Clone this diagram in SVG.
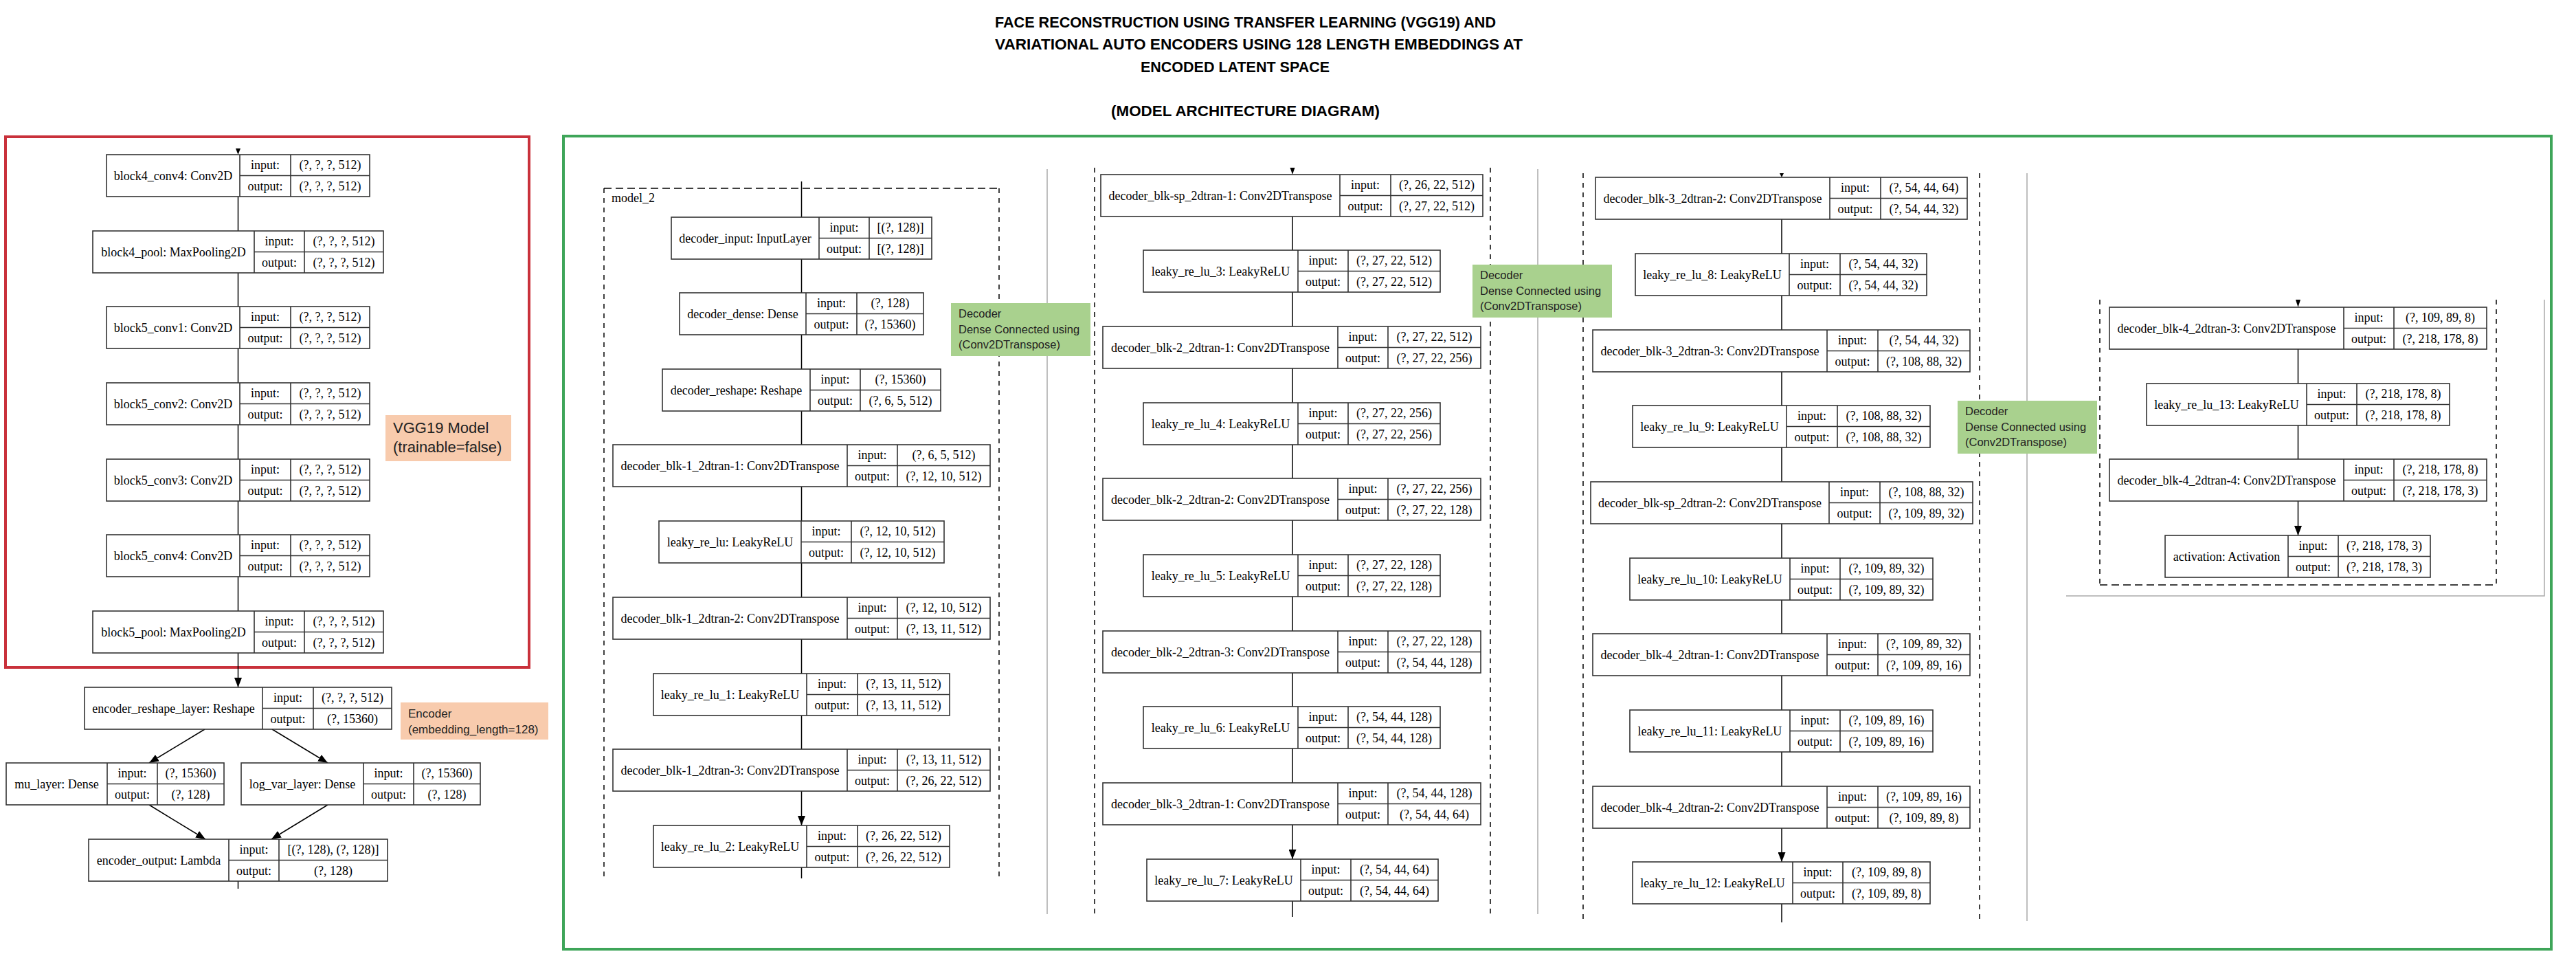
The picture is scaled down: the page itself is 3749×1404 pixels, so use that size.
<svg xmlns="http://www.w3.org/2000/svg" width="3749" height="1404" viewBox="0 0 3749 1404">
<style>
.box{fill:#fff;stroke:#333;stroke-width:1.6}
.sep{fill:none;stroke:#333;stroke-width:1.6}
.t{font-family:"Liberation Serif","Times New Roman",serif;font-size:18px;fill:#000;text-anchor:middle}
.ts{font-family:"Liberation Serif","Times New Roman",serif;font-size:18px;fill:#000}
.edge{stroke:#000;stroke-width:1.5;fill:none;marker-end:url(#ah)}
.stub{stroke:#000;stroke-width:1.5;fill:none}
.dv{stroke:#000;stroke-width:1.5;fill:none;stroke-dasharray:7 7}
.dh{stroke:#000;stroke-width:1.5;fill:none;stroke-dasharray:11 6}
.grey{stroke:#aaa;stroke-width:1.5;fill:none}
.title{font-family:"Liberation Sans",Arial,sans-serif;font-weight:bold;font-size:22px;fill:#000}
.note{font-family:"Liberation Sans",Arial,sans-serif;fill:#222}
</style>
<defs>
<marker id="ah" markerUnits="userSpaceOnUse" markerWidth="14" markerHeight="11" refX="14" refY="5.5" orient="auto"><path d="M0,0 L14,5.5 L0,11 z" fill="#000"/></marker>
</defs>
<rect width="3749" height="1404" fill="#fff"/>
<g id="title">
<text class="title" x="1448" y="40" textLength="729" lengthAdjust="spacingAndGlyphs">FACE RECONSTRUCTION USING TRANSFER LEARNING (VGG19) AND</text>
<text class="title" x="1448" y="72" textLength="768" lengthAdjust="spacingAndGlyphs">VARIATIONAL AUTO ENCODERS USING 128 LENGTH EMBEDDINGS AT</text>
<text class="title" x="1660" y="105" textLength="275" lengthAdjust="spacingAndGlyphs">ENCODED LATENT SPACE</text>
<text class="title" x="1617" y="169" textLength="391" lengthAdjust="spacingAndGlyphs">(MODEL ARCHITECTURE DIAGRAM)</text>
</g>
<g id="frames">
<path class="grey" d="M1524,246V1330M2238,246V1330M2950,252V1340M3007,867H3703V436"/>
<path class="dv" d="M879,274V1276M1454,274V1276M1593,244V1329M2169,244V1329M2304,252V1341M2881,252V1341M3056,436V851M3633,436V851"/>
<path class="dh" d="M879,274H1454M3056,851H3633"/>
<text class="ts" x="890" y="294">model_2</text>
<rect x="8" y="199" width="762" height="772" fill="none" stroke="#c9313b" stroke-width="4"/>
<rect x="820" y="198" width="2893" height="1183" fill="none" stroke="#3ea559" stroke-width="4"/>
</g>
<g id="connectors">
<path class="edge" d="M346.5,286V336M346.5,397V446M346.5,507V557M346.5,618V668M346.5,729V778M346.5,839V889M346.5,950V1000"/>
<path class="edge" d="M298,1061L217,1110"/>
<path class="edge" d="M396,1061L477,1110"/>
<path class="edge" d="M217,1171L299,1221"/>
<path class="edge" d="M477,1171L395,1221"/>
<path d="M343,216H350L346.5,225z" fill="#000"/>
<path class="stub" d="M346.5,1282V1293M1166.5,1262V1278M1881,1311V1334M2593,1315V1342"/>
<path class="edge" d="M1166.5,264V316M1166.5,377V426M1166.5,487V537M1166.5,598V647M1166.5,708V758M1166.5,819V869M1166.5,930V980M1166.5,1041V1090M1166.5,1151V1201"/>
<path d="M1877.5,244H1884.5L1881,254z" fill="#000"/>
<path class="edge" d="M1881,315V364M1881,425V475M1881,536V586M1881,647V696M1881,757V807M1881,868V918M1881,979V1028M1881,1089V1139M1881,1200V1250"/>
<path d="M2590,252H2596L2593,258z" fill="#000"/>
<path class="edge" d="M2593,319V369M2593,430V480M2593,541V590M2593,651V701M2593,762V812M2593,873V922M2593,983V1033M2593,1094V1144M2593,1205V1254"/>
<path d="M3341,436H3348L3344.5,447z" fill="#000"/>
<path class="edge" d="M3344.5,508V558M3344.5,619V668M3344.5,729V779"/>
</g>
<g id="block4_conv4"><rect class="box" x="155" y="225" width="383" height="61"/><path class="sep" d="M349,225V286M423,225V286M349,255.5H538"/><text class="t" x="252" y="262">block4_conv4: Conv2D</text><text class="t" x="386" y="246">input:</text><text class="t" x="386" y="277">output:</text><text class="t" x="480.5" y="246">(?, ?, ?, 512)</text><text class="t" x="480.5" y="277">(?, ?, ?, 512)</text></g>
<g id="block4_pool"><rect class="box" x="135" y="336" width="423" height="61"/><path class="sep" d="M370,336V397M443,336V397M370,366.5H558"/><text class="t" x="252.5" y="373">block4_pool: MaxPooling2D</text><text class="t" x="406.5" y="357">input:</text><text class="t" x="406.5" y="388">output:</text><text class="t" x="500.5" y="357">(?, ?, ?, 512)</text><text class="t" x="500.5" y="388">(?, ?, ?, 512)</text></g>
<g id="block5_conv1"><rect class="box" x="155" y="446" width="383" height="61"/><path class="sep" d="M349,446V507M423,446V507M349,476.5H538"/><text class="t" x="252" y="483">block5_conv1: Conv2D</text><text class="t" x="386" y="467">input:</text><text class="t" x="386" y="498">output:</text><text class="t" x="480.5" y="467">(?, ?, ?, 512)</text><text class="t" x="480.5" y="498">(?, ?, ?, 512)</text></g>
<g id="block5_conv2"><rect class="box" x="155" y="557" width="383" height="61"/><path class="sep" d="M349,557V618M423,557V618M349,587.5H538"/><text class="t" x="252" y="594">block5_conv2: Conv2D</text><text class="t" x="386" y="578">input:</text><text class="t" x="386" y="609">output:</text><text class="t" x="480.5" y="578">(?, ?, ?, 512)</text><text class="t" x="480.5" y="609">(?, ?, ?, 512)</text></g>
<g id="block5_conv3"><rect class="box" x="155" y="668" width="383" height="61"/><path class="sep" d="M349,668V729M423,668V729M349,698.5H538"/><text class="t" x="252" y="705">block5_conv3: Conv2D</text><text class="t" x="386" y="689">input:</text><text class="t" x="386" y="720">output:</text><text class="t" x="480.5" y="689">(?, ?, ?, 512)</text><text class="t" x="480.5" y="720">(?, ?, ?, 512)</text></g>
<g id="block5_conv4"><rect class="box" x="155" y="778" width="383" height="61"/><path class="sep" d="M349,778V839M423,778V839M349,808.5H538"/><text class="t" x="252" y="815">block5_conv4: Conv2D</text><text class="t" x="386" y="799">input:</text><text class="t" x="386" y="830">output:</text><text class="t" x="480.5" y="799">(?, ?, ?, 512)</text><text class="t" x="480.5" y="830">(?, ?, ?, 512)</text></g>
<g id="block5_pool"><rect class="box" x="135" y="889" width="423" height="61"/><path class="sep" d="M370,889V950M443,889V950M370,919.5H558"/><text class="t" x="252.5" y="926">block5_pool: MaxPooling2D</text><text class="t" x="406.5" y="910">input:</text><text class="t" x="406.5" y="941">output:</text><text class="t" x="500.5" y="910">(?, ?, ?, 512)</text><text class="t" x="500.5" y="941">(?, ?, ?, 512)</text></g>
<g id="encoder_reshape_layer"><rect class="box" x="123" y="1000" width="447" height="61"/><path class="sep" d="M382,1000V1061M456,1000V1061M382,1030.5H570"/><text class="t" x="252.5" y="1037">encoder_reshape_layer: Reshape</text><text class="t" x="419" y="1021">input:</text><text class="t" x="419" y="1052">output:</text><text class="t" x="513" y="1021">(?, ?, ?, 512)</text><text class="t" x="513" y="1052">(?, 15360)</text></g>
<g id="mu_layer"><rect class="box" x="9" y="1110" width="317" height="61"/><path class="sep" d="M156,1110V1171M229,1110V1171M156,1140.5H326"/><text class="t" x="82.5" y="1147">mu_layer: Dense</text><text class="t" x="192.5" y="1131">input:</text><text class="t" x="192.5" y="1162">output:</text><text class="t" x="277.5" y="1131">(?, 15360)</text><text class="t" x="277.5" y="1162">(?, 128)</text></g>
<g id="log_var_layer"><rect class="box" x="351" y="1110" width="348" height="61"/><path class="sep" d="M529,1110V1171M602,1110V1171M529,1140.5H699"/><text class="t" x="440" y="1147">log_var_layer: Dense</text><text class="t" x="565.5" y="1131">input:</text><text class="t" x="565.5" y="1162">output:</text><text class="t" x="650.5" y="1131">(?, 15360)</text><text class="t" x="650.5" y="1162">(?, 128)</text></g>
<g id="encoder_output"><rect class="box" x="129" y="1221" width="435" height="61"/><path class="sep" d="M333,1221V1282M406,1221V1282M333,1251.5H564"/><text class="t" x="231" y="1258">encoder_output: Lambda</text><text class="t" x="369.5" y="1242">input:</text><text class="t" x="369.5" y="1273">output:</text><text class="t" x="485" y="1242">[(?, 128), (?, 128)]</text><text class="t" x="485" y="1273">(?, 128)</text></g>
<g id="decoder_input"><rect class="box" x="977" y="316" width="379" height="61"/><path class="sep" d="M1192,316V377M1265,316V377M1192,346.5H1356"/><text class="t" x="1084.5" y="353">decoder_input: InputLayer</text><text class="t" x="1228.5" y="337">input:</text><text class="t" x="1228.5" y="368">output:</text><text class="t" x="1310.5" y="337">[(?, 128)]</text><text class="t" x="1310.5" y="368">[(?, 128)]</text></g>
<g id="decoder_dense"><rect class="box" x="989" y="426" width="355" height="61"/><path class="sep" d="M1173,426V487M1247,426V487M1173,456.5H1344"/><text class="t" x="1081" y="463">decoder_dense: Dense</text><text class="t" x="1210" y="447">input:</text><text class="t" x="1210" y="478">output:</text><text class="t" x="1295.5" y="447">(?, 128)</text><text class="t" x="1295.5" y="478">(?, 15360)</text></g>
<g id="decoder_reshape"><rect class="box" x="964" y="537" width="405" height="61"/><path class="sep" d="M1179,537V598M1252,537V598M1179,567.5H1369"/><text class="t" x="1071.5" y="574">decoder_reshape: Reshape</text><text class="t" x="1215.5" y="558">input:</text><text class="t" x="1215.5" y="589">output:</text><text class="t" x="1310.5" y="558">(?, 15360)</text><text class="t" x="1310.5" y="589">(?, 6, 5, 512)</text></g>
<g id="decoder_blk-1_2dtran-1"><rect class="box" x="892" y="647" width="549" height="61"/><path class="sep" d="M1233,647V708M1306,647V708M1233,677.5H1441"/><text class="t" x="1062.5" y="684">decoder_blk-1_2dtran-1: Conv2DTranspose</text><text class="t" x="1269.5" y="668">input:</text><text class="t" x="1269.5" y="699">output:</text><text class="t" x="1373.5" y="668">(?, 6, 5, 512)</text><text class="t" x="1373.5" y="699">(?, 12, 10, 512)</text></g>
<g id="leaky_re_lu"><rect class="box" x="959" y="758" width="415" height="61"/><path class="sep" d="M1166,758V819M1239,758V819M1166,788.5H1374"/><text class="t" x="1062.5" y="795">leaky_re_lu: LeakyReLU</text><text class="t" x="1202.5" y="779">input:</text><text class="t" x="1202.5" y="810">output:</text><text class="t" x="1306.5" y="779">(?, 12, 10, 512)</text><text class="t" x="1306.5" y="810">(?, 12, 10, 512)</text></g>
<g id="decoder_blk-1_2dtran-2"><rect class="box" x="892" y="869" width="549" height="61"/><path class="sep" d="M1233,869V930M1306,869V930M1233,899.5H1441"/><text class="t" x="1062.5" y="906">decoder_blk-1_2dtran-2: Conv2DTranspose</text><text class="t" x="1269.5" y="890">input:</text><text class="t" x="1269.5" y="921">output:</text><text class="t" x="1373.5" y="890">(?, 12, 10, 512)</text><text class="t" x="1373.5" y="921">(?, 13, 11, 512)</text></g>
<g id="leaky_re_lu_1"><rect class="box" x="951" y="980" width="431" height="61"/><path class="sep" d="M1174,980V1041M1248,980V1041M1174,1010.5H1382"/><text class="t" x="1062.5" y="1017">leaky_re_lu_1: LeakyReLU</text><text class="t" x="1211" y="1001">input:</text><text class="t" x="1211" y="1032">output:</text><text class="t" x="1315" y="1001">(?, 13, 11, 512)</text><text class="t" x="1315" y="1032">(?, 13, 11, 512)</text></g>
<g id="decoder_blk-1_2dtran-3"><rect class="box" x="892" y="1090" width="549" height="61"/><path class="sep" d="M1233,1090V1151M1306,1090V1151M1233,1120.5H1441"/><text class="t" x="1062.5" y="1127">decoder_blk-1_2dtran-3: Conv2DTranspose</text><text class="t" x="1269.5" y="1111">input:</text><text class="t" x="1269.5" y="1142">output:</text><text class="t" x="1373.5" y="1111">(?, 13, 11, 512)</text><text class="t" x="1373.5" y="1142">(?, 26, 22, 512)</text></g>
<g id="leaky_re_lu_2"><rect class="box" x="951" y="1201" width="431" height="61"/><path class="sep" d="M1174,1201V1262M1248,1201V1262M1174,1231.5H1382"/><text class="t" x="1062.5" y="1238">leaky_re_lu_2: LeakyReLU</text><text class="t" x="1211" y="1222">input:</text><text class="t" x="1211" y="1253">output:</text><text class="t" x="1315" y="1222">(?, 26, 22, 512)</text><text class="t" x="1315" y="1253">(?, 26, 22, 512)</text></g>
<g id="decoder_blk-sp_2dtran-1"><rect class="box" x="1602" y="254" width="556" height="61"/><path class="sep" d="M1950,254V315M2024,254V315M1950,284.5H2158"/><text class="t" x="1776" y="291">decoder_blk-sp_2dtran-1: Conv2DTranspose</text><text class="t" x="1987" y="275">input:</text><text class="t" x="1987" y="306">output:</text><text class="t" x="2091" y="275">(?, 26, 22, 512)</text><text class="t" x="2091" y="306">(?, 27, 22, 512)</text></g>
<g id="leaky_re_lu_3"><rect class="box" x="1664" y="364" width="432" height="61"/><path class="sep" d="M1889,364V425M1962,364V425M1889,394.5H2096"/><text class="t" x="1776.5" y="401">leaky_re_lu_3: LeakyReLU</text><text class="t" x="1925.5" y="385">input:</text><text class="t" x="1925.5" y="416">output:</text><text class="t" x="2029" y="385">(?, 27, 22, 512)</text><text class="t" x="2029" y="416">(?, 27, 22, 512)</text></g>
<g id="decoder_blk-2_2dtran-1"><rect class="box" x="1605" y="475" width="550" height="61"/><path class="sep" d="M1947,475V536M2020,475V536M1947,505.5H2155"/><text class="t" x="1776" y="512">decoder_blk-2_2dtran-1: Conv2DTranspose</text><text class="t" x="1983.5" y="496">input:</text><text class="t" x="1983.5" y="527">output:</text><text class="t" x="2087.5" y="496">(?, 27, 22, 512)</text><text class="t" x="2087.5" y="527">(?, 27, 22, 256)</text></g>
<g id="leaky_re_lu_4"><rect class="box" x="1664" y="586" width="432" height="61"/><path class="sep" d="M1889,586V647M1962,586V647M1889,616.5H2096"/><text class="t" x="1776.5" y="623">leaky_re_lu_4: LeakyReLU</text><text class="t" x="1925.5" y="607">input:</text><text class="t" x="1925.5" y="638">output:</text><text class="t" x="2029" y="607">(?, 27, 22, 256)</text><text class="t" x="2029" y="638">(?, 27, 22, 256)</text></g>
<g id="decoder_blk-2_2dtran-2"><rect class="box" x="1605" y="696" width="550" height="61"/><path class="sep" d="M1947,696V757M2020,696V757M1947,726.5H2155"/><text class="t" x="1776" y="733">decoder_blk-2_2dtran-2: Conv2DTranspose</text><text class="t" x="1983.5" y="717">input:</text><text class="t" x="1983.5" y="748">output:</text><text class="t" x="2087.5" y="717">(?, 27, 22, 256)</text><text class="t" x="2087.5" y="748">(?, 27, 22, 128)</text></g>
<g id="leaky_re_lu_5"><rect class="box" x="1664" y="807" width="432" height="61"/><path class="sep" d="M1889,807V868M1962,807V868M1889,837.5H2096"/><text class="t" x="1776.5" y="844">leaky_re_lu_5: LeakyReLU</text><text class="t" x="1925.5" y="828">input:</text><text class="t" x="1925.5" y="859">output:</text><text class="t" x="2029" y="828">(?, 27, 22, 128)</text><text class="t" x="2029" y="859">(?, 27, 22, 128)</text></g>
<g id="decoder_blk-2_2dtran-3"><rect class="box" x="1605" y="918" width="550" height="61"/><path class="sep" d="M1947,918V979M2020,918V979M1947,948.5H2155"/><text class="t" x="1776" y="955">decoder_blk-2_2dtran-3: Conv2DTranspose</text><text class="t" x="1983.5" y="939">input:</text><text class="t" x="1983.5" y="970">output:</text><text class="t" x="2087.5" y="939">(?, 27, 22, 128)</text><text class="t" x="2087.5" y="970">(?, 54, 44, 128)</text></g>
<g id="leaky_re_lu_6"><rect class="box" x="1664" y="1028" width="432" height="61"/><path class="sep" d="M1889,1028V1089M1962,1028V1089M1889,1058.5H2096"/><text class="t" x="1776.5" y="1065">leaky_re_lu_6: LeakyReLU</text><text class="t" x="1925.5" y="1049">input:</text><text class="t" x="1925.5" y="1080">output:</text><text class="t" x="2029" y="1049">(?, 54, 44, 128)</text><text class="t" x="2029" y="1080">(?, 54, 44, 128)</text></g>
<g id="decoder_blk-3_2dtran-1"><rect class="box" x="1605" y="1139" width="550" height="61"/><path class="sep" d="M1947,1139V1200M2020,1139V1200M1947,1169.5H2155"/><text class="t" x="1776" y="1176">decoder_blk-3_2dtran-1: Conv2DTranspose</text><text class="t" x="1983.5" y="1160">input:</text><text class="t" x="1983.5" y="1191">output:</text><text class="t" x="2087.5" y="1160">(?, 54, 44, 128)</text><text class="t" x="2087.5" y="1191">(?, 54, 44, 64)</text></g>
<g id="leaky_re_lu_7"><rect class="box" x="1669" y="1250" width="424" height="61"/><path class="sep" d="M1893,1250V1311M1966,1250V1311M1893,1280.5H2093"/><text class="t" x="1781" y="1287">leaky_re_lu_7: LeakyReLU</text><text class="t" x="1929.5" y="1271">input:</text><text class="t" x="1929.5" y="1302">output:</text><text class="t" x="2029.5" y="1271">(?, 54, 44, 64)</text><text class="t" x="2029.5" y="1302">(?, 54, 44, 64)</text></g>
<g id="decoder_blk-3_2dtran-2"><rect class="box" x="2322" y="258" width="541" height="61"/><path class="sep" d="M2663,258V319M2737,258V319M2663,288.5H2863"/><text class="t" x="2492.5" y="295">decoder_blk-3_2dtran-2: Conv2DTranspose</text><text class="t" x="2700" y="279">input:</text><text class="t" x="2700" y="310">output:</text><text class="t" x="2800" y="279">(?, 54, 44, 64)</text><text class="t" x="2800" y="310">(?, 54, 44, 32)</text></g>
<g id="leaky_re_lu_8"><rect class="box" x="2380" y="369" width="424" height="61"/><path class="sep" d="M2604,369V430M2678,369V430M2604,399.5H2804"/><text class="t" x="2492" y="406">leaky_re_lu_8: LeakyReLU</text><text class="t" x="2641" y="390">input:</text><text class="t" x="2641" y="421">output:</text><text class="t" x="2741" y="390">(?, 54, 44, 32)</text><text class="t" x="2741" y="421">(?, 54, 44, 32)</text></g>
<g id="decoder_blk-3_2dtran-3"><rect class="box" x="2318" y="480" width="549" height="61"/><path class="sep" d="M2659,480V541M2733,480V541M2659,510.5H2867"/><text class="t" x="2488.5" y="517">decoder_blk-3_2dtran-3: Conv2DTranspose</text><text class="t" x="2696" y="501">input:</text><text class="t" x="2696" y="532">output:</text><text class="t" x="2800" y="501">(?, 54, 44, 32)</text><text class="t" x="2800" y="532">(?, 108, 88, 32)</text></g>
<g id="leaky_re_lu_9"><rect class="box" x="2376" y="590" width="433" height="61"/><path class="sep" d="M2600,590V651M2674,590V651M2600,620.5H2809"/><text class="t" x="2488" y="627">leaky_re_lu_9: LeakyReLU</text><text class="t" x="2637" y="611">input:</text><text class="t" x="2637" y="642">output:</text><text class="t" x="2741.5" y="611">(?, 108, 88, 32)</text><text class="t" x="2741.5" y="642">(?, 108, 88, 32)</text></g>
<g id="decoder_blk-sp_2dtran-2"><rect class="box" x="2315" y="701" width="556" height="61"/><path class="sep" d="M2662,701V762M2736,701V762M2662,731.5H2871"/><text class="t" x="2488.5" y="738">decoder_blk-sp_2dtran-2: Conv2DTranspose</text><text class="t" x="2699" y="722">input:</text><text class="t" x="2699" y="753">output:</text><text class="t" x="2803.5" y="722">(?, 108, 88, 32)</text><text class="t" x="2803.5" y="753">(?, 109, 89, 32)</text></g>
<g id="leaky_re_lu_10"><rect class="box" x="2372" y="812" width="441" height="61"/><path class="sep" d="M2605,812V873M2678,812V873M2605,842.5H2813"/><text class="t" x="2488.5" y="849">leaky_re_lu_10: LeakyReLU</text><text class="t" x="2641.5" y="833">input:</text><text class="t" x="2641.5" y="864">output:</text><text class="t" x="2745.5" y="833">(?, 109, 89, 32)</text><text class="t" x="2745.5" y="864">(?, 109, 89, 32)</text></g>
<g id="decoder_blk-4_2dtran-1"><rect class="box" x="2318" y="922" width="549" height="61"/><path class="sep" d="M2659,922V983M2733,922V983M2659,952.5H2867"/><text class="t" x="2488.5" y="959">decoder_blk-4_2dtran-1: Conv2DTranspose</text><text class="t" x="2696" y="943">input:</text><text class="t" x="2696" y="974">output:</text><text class="t" x="2800" y="943">(?, 109, 89, 32)</text><text class="t" x="2800" y="974">(?, 109, 89, 16)</text></g>
<g id="leaky_re_lu_11"><rect class="box" x="2372" y="1033" width="441" height="61"/><path class="sep" d="M2605,1033V1094M2678,1033V1094M2605,1063.5H2813"/><text class="t" x="2488.5" y="1070">leaky_re_lu_11: LeakyReLU</text><text class="t" x="2641.5" y="1054">input:</text><text class="t" x="2641.5" y="1085">output:</text><text class="t" x="2745.5" y="1054">(?, 109, 89, 16)</text><text class="t" x="2745.5" y="1085">(?, 109, 89, 16)</text></g>
<g id="decoder_blk-4_2dtran-2"><rect class="box" x="2318" y="1144" width="549" height="61"/><path class="sep" d="M2659,1144V1205M2733,1144V1205M2659,1174.5H2867"/><text class="t" x="2488.5" y="1181">decoder_blk-4_2dtran-2: Conv2DTranspose</text><text class="t" x="2696" y="1165">input:</text><text class="t" x="2696" y="1196">output:</text><text class="t" x="2800" y="1165">(?, 109, 89, 16)</text><text class="t" x="2800" y="1196">(?, 109, 89, 8)</text></g>
<g id="leaky_re_lu_12"><rect class="box" x="2376" y="1254" width="433" height="61"/><path class="sep" d="M2609,1254V1315M2682,1254V1315M2609,1284.5H2809"/><text class="t" x="2492.5" y="1291">leaky_re_lu_12: LeakyReLU</text><text class="t" x="2645.5" y="1275">input:</text><text class="t" x="2645.5" y="1306">output:</text><text class="t" x="2745.5" y="1275">(?, 109, 89, 8)</text><text class="t" x="2745.5" y="1306">(?, 109, 89, 8)</text></g>
<g id="decoder_blk-4_2dtran-3"><rect class="box" x="3070" y="447" width="549" height="61"/><path class="sep" d="M3411,447V508M3484,447V508M3411,477.5H3619"/><text class="t" x="3240.5" y="484">decoder_blk-4_2dtran-3: Conv2DTranspose</text><text class="t" x="3447.5" y="468">input:</text><text class="t" x="3447.5" y="499">output:</text><text class="t" x="3551.5" y="468">(?, 109, 89, 8)</text><text class="t" x="3551.5" y="499">(?, 218, 178, 8)</text></g>
<g id="leaky_re_lu_13"><rect class="box" x="3124" y="558" width="441" height="61"/><path class="sep" d="M3357,558V619M3430,558V619M3357,588.5H3565"/><text class="t" x="3240.5" y="595">leaky_re_lu_13: LeakyReLU</text><text class="t" x="3393.5" y="579">input:</text><text class="t" x="3393.5" y="610">output:</text><text class="t" x="3497.5" y="579">(?, 218, 178, 8)</text><text class="t" x="3497.5" y="610">(?, 218, 178, 8)</text></g>
<g id="decoder_blk-4_2dtran-4"><rect class="box" x="3070" y="668" width="549" height="61"/><path class="sep" d="M3411,668V729M3484,668V729M3411,698.5H3619"/><text class="t" x="3240.5" y="705">decoder_blk-4_2dtran-4: Conv2DTranspose</text><text class="t" x="3447.5" y="689">input:</text><text class="t" x="3447.5" y="720">output:</text><text class="t" x="3551.5" y="689">(?, 218, 178, 8)</text><text class="t" x="3551.5" y="720">(?, 218, 178, 3)</text></g>
<g id="activation"><rect class="box" x="3151" y="779" width="386" height="61"/><path class="sep" d="M3330,779V840M3403,779V840M3330,809.5H3537"/><text class="t" x="3240.5" y="816">activation: Activation</text><text class="t" x="3366.5" y="800">input:</text><text class="t" x="3366.5" y="831">output:</text><text class="t" x="3470" y="800">(?, 218, 178, 3)</text><text class="t" x="3470" y="831">(?, 218, 178, 3)</text></g>
<g id="note-vgg19"><rect x="561" y="604" width="183" height="67" fill="#f8cbad"/><text class="note" font-size="22" x="572" y="630">VGG19 Model</text><text class="note" font-size="22" x="572" y="658">(trainable=false)</text></g>
<g id="note-encoder"><rect x="583" y="1022" width="215" height="54" fill="#f8cbad"/><text class="note" font-size="17" x="594" y="1044">Encoder</text><text class="note" font-size="17" x="594" y="1067">(embedding_length=128)</text></g>
<g id="note-decoder-1"><rect x="1384" y="441" width="203" height="77" fill="#a9d18e"/><text class="note" font-size="16.5" x="1395" y="462">Decoder</text><text class="note" font-size="16.5" x="1395" y="485">Dense Connected using</text><text class="note" font-size="16.5" x="1395" y="507">(Conv2DTranspose)</text></g>
<g id="note-decoder-2"><rect x="2143" y="385" width="203" height="77" fill="#a9d18e"/><text class="note" font-size="16.5" x="2154" y="406">Decoder</text><text class="note" font-size="16.5" x="2154" y="429">Dense Connected using</text><text class="note" font-size="16.5" x="2154" y="451">(Conv2DTranspose)</text></g>
<g id="note-decoder-3"><rect x="2849" y="583" width="203" height="77" fill="#a9d18e"/><text class="note" font-size="16.5" x="2860" y="604">Decoder</text><text class="note" font-size="16.5" x="2860" y="627">Dense Connected using</text><text class="note" font-size="16.5" x="2860" y="649">(Conv2DTranspose)</text></g>
</svg>
